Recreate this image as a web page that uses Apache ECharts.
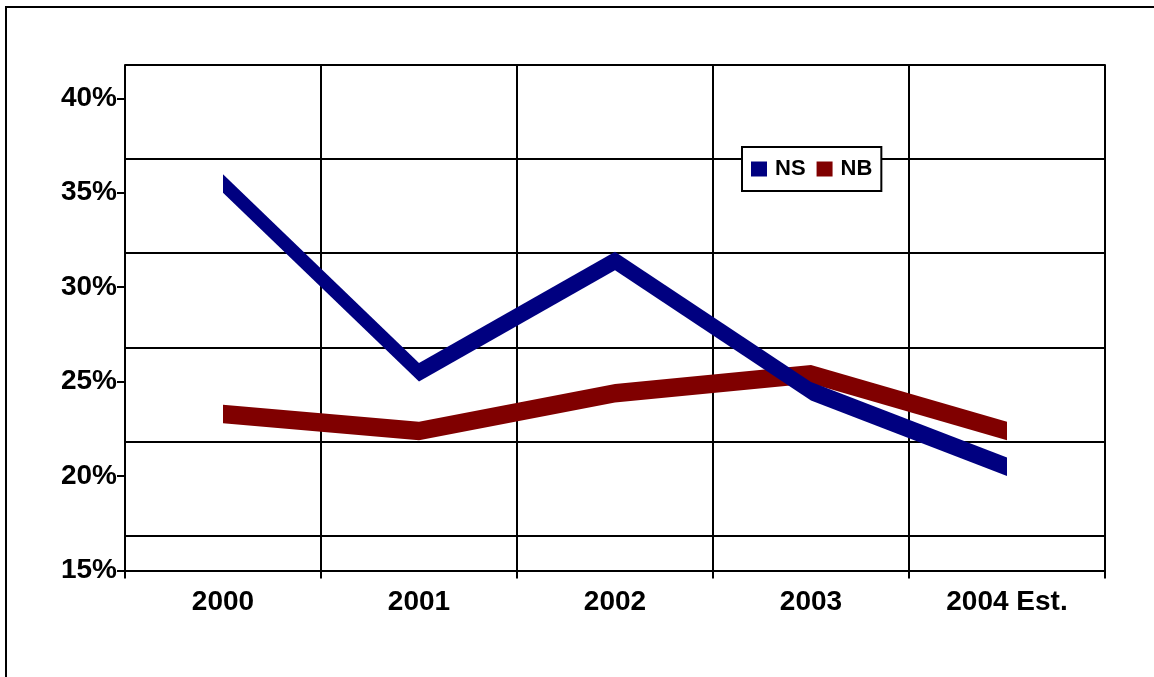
<!DOCTYPE html>
<html>
<head>
<meta charset="utf-8">
<script src="https://cdn.jsdelivr.net/npm/echarts@6/dist/echarts.min.js"></script>
<style>
html,body{margin:0;padding:0;background:#fff;}
#chart{width:1154px;height:677px;}
</style>
</head>
<body>
<div id="chart"></div>
<script>
var categories = ['2000', '2001', '2002', '2003', '2004 Est.'];
var nsValues = [35.0, 25.0, 30.9, 24.0, 20.0];
var nbValues = [22.8, 21.9, 23.9, 24.9, 21.9];
var yTicks = [15, 20, 25, 30, 35, 40];

var FONT = '"Liberation Sans", Arial, sans-serif';
var RIBBON = 18.5;

function segments(vals) {
  var out = [];
  for (var i = 0; i < vals.length - 1; i++) out.push([i, vals[i], vals[i + 1]]);
  return out;
}

function ribbon(api) {
  var i = api.value(0);
  var a = api.coord([i, api.value(1)]);
  var b = api.coord([i + 1, api.value(2)]);
  return {
    type: 'polygon',
    shape: { points: [[a[0], a[1]], [b[0], b[1]], [b[0], b[1] - RIBBON], [a[0], a[1] - RIBBON]] },
    style: { fill: api.visual('color') }
  };
}

var chart = echarts.init(document.getElementById('chart'));
var option = {
  backgroundColor: '#ffffff',
  animation: false,
  graphic: [{
    type: 'rect', z: 0,
    shape: { x: 6, y: 7, width: 1300, height: 800 },
    style: { fill: 'none', stroke: '#000', lineWidth: 2 }
  }],
  legend: {
    data: ['NS', 'NB'],
    left: 742, top: 147,
    orient: 'horizontal',
    backgroundColor: '#fff',
    borderColor: '#000', borderWidth: 2,
    padding: [11, 9, 11, 9],
    itemWidth: 16, itemHeight: 15, itemGap: 11,
    icon: 'rect',
    textStyle: { fontFamily: FONT, fontWeight: 'bold', fontSize: 22, color: '#000', padding: [2, 0, 0, 3] },
    z: 10
  },
  grid: [
    { left: 125, right: 49, top: 64.3, bottom: 141 },
    { left: 125, right: 49, top: 64.3, bottom: 99 },
    { left: 125, right: 49, top: 98.3, bottom: 106.5 }
  ],
  xAxis: [
    { gridIndex: 0, type: 'category', data: categories, boundaryGap: true,
      axisLine: { show: false }, axisTick: { show: false }, axisLabel: { show: false }, splitLine: { show: false } },
    { gridIndex: 1, type: 'category', data: categories, boundaryGap: true,
      axisLine: { show: false }, axisTick: { show: false }, axisLabel: { show: false },
      splitLine: { show: true, lineStyle: { color: '#000', width: 2 } } },
    { gridIndex: 2, type: 'category', data: categories, boundaryGap: true,
      axisLine: { show: true, lineStyle: { color: '#000', width: 2 } },
      axisTick: { show: true, inside: false, length: 8, lineStyle: { color: '#000', width: 2 } },
      axisLabel: { show: true, color: '#000', fontFamily: FONT, fontWeight: 'bold', fontSize: 28, margin: 18 },
      splitLine: { show: false } }
  ],
  yAxis: [
    { gridIndex: 0, type: 'value', min: yTicks[0], max: yTicks[yTicks.length - 1], interval: 5,
      axisLine: { show: false }, axisTick: { show: false }, axisLabel: { show: false },
      splitLine: { show: true, lineStyle: { color: '#000', width: 2 } } },
    { gridIndex: 1, type: 'value', min: 0, max: 1, show: false },
    { gridIndex: 2, type: 'value', min: yTicks[0], max: yTicks[yTicks.length - 1], interval: 5,
      axisLine: { show: false },
      axisTick: { show: true, inside: false, length: 8, lineStyle: { color: '#000', width: 2 } },
      axisLabel: { show: true, color: '#000', fontFamily: FONT, fontWeight: 'bold', fontSize: 28, margin: 8,
        padding: [4, 0, 0, 0], formatter: '{value}%' },
      splitLine: { show: false } }
  ],
  series: [
    { name: 'NB', type: 'custom', xAxisIndex: 2, yAxisIndex: 2, color: '#800000',
      data: segments(nbValues), renderItem: function (p, api) { return ribbon(api); }, z: 3 },
    { name: 'NS', type: 'custom', xAxisIndex: 2, yAxisIndex: 2, color: '#000080',
      data: segments(nsValues), renderItem: function (p, api) { return ribbon(api); }, z: 4 }
  ]
};
chart.setOption(option);
</script>
</body>
</html>
